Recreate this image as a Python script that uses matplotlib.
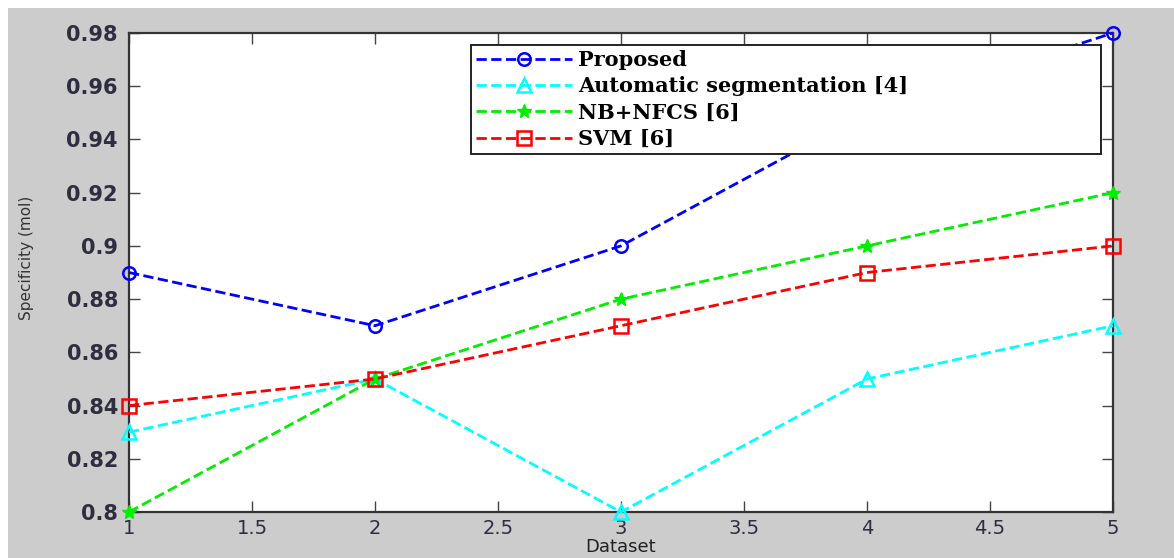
import numpy as np
import matplotlib
matplotlib.use("Agg")
from matplotlib import pyplot as plt
from matplotlib.patches import Rectangle

# data
datasets = [1, 2, 3, 4, 5]
proposed = [0.89, 0.87, 0.90, 0.95, 0.98]
auto_seg = [0.83, 0.85, 0.80, 0.85, 0.87]
nb_nfcs = [0.80, 0.85, 0.88, 0.90, 0.92]
svm = [0.84, 0.85, 0.87, 0.89, 0.90]

labels = ['Proposed', 'Automatic segmentation [4]', 'NB+NFCS [6]', 'SVM [6]']
xticks = [1, 1.5, 2, 2.5, 3, 3.5, 4, 4.5, 5]
yticks = [0.8, 0.82, 0.84, 0.86, 0.88, 0.9, 0.92, 0.94, 0.96, 0.98]

fig = plt.figure(figsize=(11.74, 5.58), dpi=100, facecolor='white')
# gray matlab-style background with a thin white strip top/left
fig.patches.append(Rectangle((8/1174, 0), 1, 1 - 8/558, transform=fig.transFigure,
                             facecolor='#cccccc', edgecolor='none', zorder=-10))

ax = fig.add_axes([129/1174, 1 - 512/558, (1113 - 129)/1174, (512 - 33)/558])
ax.set_facecolor('white')

ax.plot(datasets, proposed, '--', color='#0000ff', lw=2, marker='o', ms=9,
        mfc='none', mew=1.8, label=labels[0], clip_on=False, zorder=3)
ax.plot(datasets, auto_seg, '--', color='#00ffff', lw=2, marker='^', ms=10,
        mfc='none', mew=1.8, label=labels[1], clip_on=False, zorder=3)
ax.plot(datasets, nb_nfcs, '--', color='#00ee00', lw=2, marker='*', ms=10,
        label=labels[2], clip_on=False, zorder=3)
ax.plot(datasets, svm, '--', color='#ff0000', lw=2, marker='s', ms=10,
        mfc='none', mew=1.8, label=labels[3], clip_on=False, zorder=3)

ax.set_xlim(1, 5)
ax.set_ylim(0.8, 0.98)
ax.set_xticks(xticks)
ax.set_xticklabels(['1', '1.5', '2', '2.5', '3', '3.5', '4', '4.5', '5'],
                   fontsize=14, family='DejaVu Sans')
ax.set_yticks(yticks)
ax.set_yticklabels(['0.8', '0.82', '0.84', '0.86', '0.88', '0.9', '0.92', '0.94', '0.96', '0.98'],
                   fontsize=15, fontweight='bold', family='DejaVu Sans')
ax.tick_params(direction='in', length=8, width=1, top=True, right=True, colors='#444444',
               pad=8, labelcolor='#2e2e40')
ax.tick_params(axis='x', pad=5)
for s in ax.spines.values():
    s.set_linewidth(1.6)
    s.set_color('#333333')

ax.set_xlabel('Dataset', fontsize=13, color='#222222', labelpad=0)
ax.set_ylabel('Specificity (mol)', fontsize=11, color='#333333')
ax.yaxis.set_label_coords(-0.0965, 0.53)

leg = ax.legend(loc='upper left', mode='expand',
                bbox_to_anchor=((471 - 129)/984, 1 - 12/479, (1101 - 471)/984, 0),
                prop={'family': 'DejaVu Serif', 'weight': 'bold', 'size': 15},
                frameon=True, fancybox=False, edgecolor='#222222', framealpha=1,
                handlelength=4.6, labelspacing=0.3, borderpad=0.25, handletextpad=0.3,
                borderaxespad=0)
leg.get_frame().set_linewidth(1.4)
leg.set_zorder(5)

fig.savefig('out.png', dpi=100, facecolor=fig.get_facecolor())
